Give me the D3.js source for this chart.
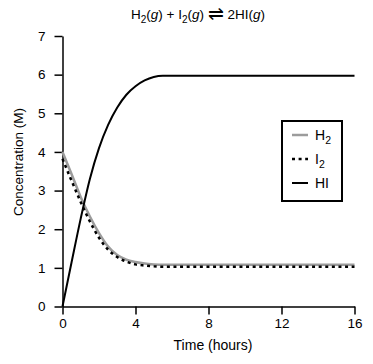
<!DOCTYPE html>
<html>
<head>
<meta charset="utf-8">
<script src="https://cdn.jsdelivr.net/npm/d3@7"></script>
<style>
  body { margin: 0; background: #fff; }
  svg text { font-family: "Liberation Sans", Arial, sans-serif; fill: #000; }
</style>
</head>
<body>
<div id="chart"></div>
<script>
  "use strict";

  // time in hours
  var times = [0, 0.5, 1, 1.5, 2, 2.5, 3, 3.5, 4, 4.5, 5, 5.5, 6, 8, 10, 12, 14, 16];
  // concentrations (M)
  var hiValues = [0, 1.15, 2.28, 3.3, 4.1, 4.7, 5.15, 5.48, 5.7, 5.85, 5.94, 5.97, 5.97, 5.97, 5.97, 5.97, 5.97, 5.97];
  var h2Values = [4.0, 3.42, 2.83, 2.33, 1.9, 1.55, 1.33, 1.21, 1.15, 1.11, 1.09, 1.08, 1.08, 1.08, 1.08, 1.08, 1.08, 1.08];
  var i2Values = [3.82, 3.25, 2.7, 2.2, 1.78, 1.47, 1.28, 1.16, 1.09, 1.06, 1.04, 1.03, 1.03, 1.03, 1.03, 1.03, 1.03, 1.03];

  var xTicks = [0, 4, 8, 12, 16];
  var yTicks = [0, 1, 2, 3, 4, 5, 6, 7];

  var series = [
    {name: "H", sub: "2", values: h2Values, color: "#9c9c9c", width: 2.5, dash: null},
    {name: "I", sub: "2", values: i2Values, color: "#000", width: 2.5, dash: "3,3.6"},
    {name: "HI", sub: "", values: hiValues, color: "#000", width: 2, dash: null}
  ];

  var width = 373, height = 364;
  var margin = {left: 62.5, right: 18.5, top: 36, bottom: 57.5};

  var svg = d3.select("#chart").append("svg")
    .attr("width", width)
    .attr("height", height);

  var x = d3.scaleLinear().domain([0, 16]).range([margin.left, width - margin.right]);
  var y = d3.scaleLinear().domain([0, 7]).range([height - margin.bottom, margin.top]);

  // axes
  var xAxis = svg.append("g")
    .attr("transform", "translate(0," + y(0) + ")")
    .call(d3.axisBottom(x).tickValues(xTicks).tickFormat(d3.format("d"))
      .tickSize(8).tickPadding(4).tickSizeOuter(0));
  var yAxis = svg.append("g")
    .attr("transform", "translate(" + x(0) + ",0)")
    .call(d3.axisLeft(y).tickValues(yTicks).tickFormat(d3.format("d"))
      .tickSize(8).tickPadding(9).tickSizeOuter(0));

  [xAxis, yAxis].forEach(function (g) {
    g.select(".domain").attr("stroke", "#000").attr("stroke-width", 1.5);
    g.selectAll(".tick line").attr("stroke", "#000").attr("stroke-width", 1.5);
    g.selectAll(".tick text").style("font-size", "13.5px").attr("fill", "#000");
  });

  // lines
  var line = d3.line()
    .x(function (d) { return x(d[0]); })
    .y(function (d) { return y(d[1]); })
    .curve(d3.curveMonotoneX);

  series.forEach(function (s) {
    var pts = times.map(function (t, i) { return [t, s.values[i]]; });
    svg.append("path")
      .datum(pts)
      .attr("d", line)
      .attr("fill", "none")
      .attr("stroke", s.color)
      .attr("stroke-width", s.width)
      .attr("stroke-dasharray", s.dash);
  });

  // axis titles
  svg.append("text")
    .attr("x", 213)
    .attr("y", 350)
    .attr("text-anchor", "middle")
    .style("font-size", "14px")
    .text("Time (hours)");

  svg.append("text")
    .attr("transform", "translate(23,162) rotate(-90)")
    .attr("text-anchor", "middle")
    .style("font-size", "13.5px")
    .text("Concentration (M)");

  // title
  var title = svg.append("text")
    .attr("x", 198)
    .attr("y", 19)
    .attr("text-anchor", "middle")
    .style("font-size", "13.5px");
  title.append("tspan").text("H");
  title.append("tspan").attr("dy", 4).style("font-size", "10px").text("2");
  title.append("tspan").attr("dy", -4).text("(");
  title.append("tspan").style("font-style", "italic").text("g");
  title.append("tspan").text(") + I");
  title.append("tspan").attr("dy", 4).style("font-size", "10px").text("2");
  title.append("tspan").attr("dy", -4).text("(");
  title.append("tspan").style("font-style", "italic").text("g");
  title.append("tspan").text(") ");
  title.append("tspan").attr("dy", 1).style("font-family", "DejaVu Sans")
    .style("font-size", "19px").style("font-weight", 300).text("\u21CC");
  title.append("tspan").attr("dy", -1).text(" 2HI(");
  title.append("tspan").style("font-style", "italic").text("g");
  title.append("tspan").text(")");

  // legend
  var legend = svg.append("g").attr("transform", "translate(282,121)");
  legend.append("rect")
    .attr("width", 60)
    .attr("height", 80)
    .attr("fill", "#fff")
    .attr("stroke", "#000")
    .attr("stroke-width", 2);

  series.forEach(function (s, i) {
    var row = legend.append("g").attr("transform", "translate(0," + (14 + i * 24) + ")");
    row.append("line")
      .attr("x1", 10).attr("x2", 26)
      .attr("stroke", s.color)
      .attr("stroke-width", s.width)
      .attr("stroke-dasharray", s.dash);
    var t = row.append("text")
      .attr("x", 33)
      .attr("y", 5)
      .style("font-size", "14px");
    t.append("tspan").text(s.name);
    if (s.sub) t.append("tspan").attr("dy", 4).style("font-size", "10.5px").text(s.sub);
  });
</script>
</body>
</html>
